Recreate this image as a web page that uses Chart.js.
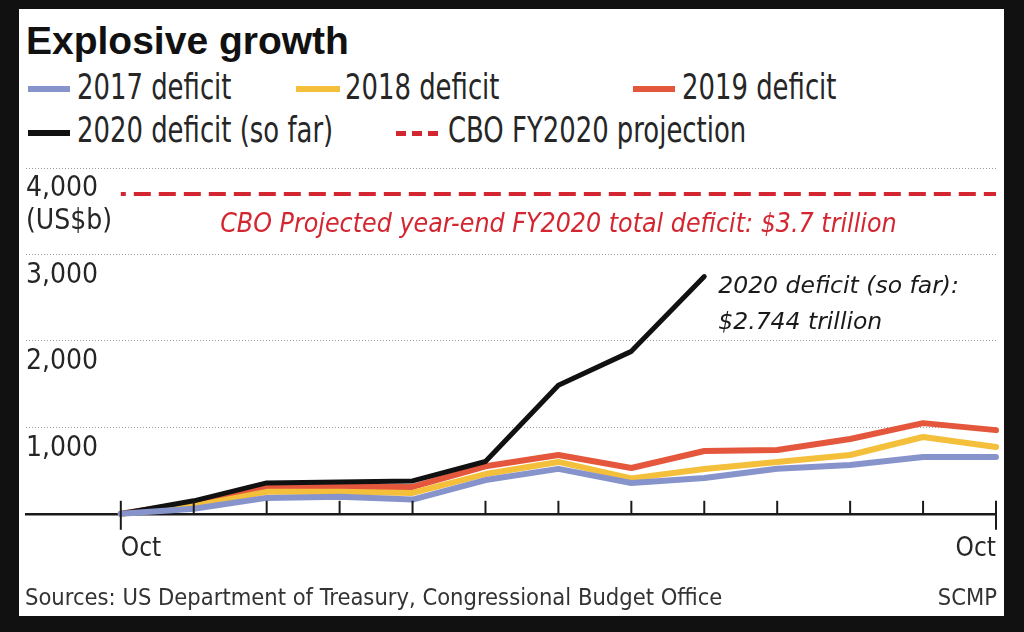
<!DOCTYPE html>
<html>
<head>
<meta charset="utf-8">
<title>Explosive growth</title>
<script src="https://cdn.jsdelivr.net/npm/chart.js@4.4.1/dist/chart.umd.min.js"></script>
<style>
  html, body { margin: 0; padding: 0; background: #111; }
  body { width: 1024px; height: 632px; position: relative; overflow: hidden; }
  #panel { position: absolute; left: 19px; top: 9px; width: 985px; height: 607px; background: #fff; }
  #chart { position: absolute; left: 0; top: 0; }
  .txt { position: absolute; white-space: nowrap; color: #262626; }
  .title { left: 26px; top: 20.5px; font: bold 39px/39px "Liberation Sans", Arial, sans-serif; color: #111; }
  .leg { font: 36px/36px "DejaVu Sans Condensed", sans-serif; transform: scaleX(0.8); transform-origin: left center; }
  .sw { position: absolute; height: 6px; }
  .dash { position: absolute; height: 5px;
    background: repeating-linear-gradient(to right, #d42630 0 10px, transparent 10px 16px); }
  .src { font: 23.5px/24px "DejaVu Sans Condensed", sans-serif; top: 584.7px; color: #333; }
</style>
</head>
<body>
<div id="panel"></div>

<div class="txt title">Explosive growth</div>

<!-- legend -->
<div class="sw" style="left:28px; top:86px; width:42px; background:#8794cc;"></div>
<div class="txt leg" style="left:77px; top:68.5px;">2017 deficit</div>
<div class="sw" style="left:296px; top:86px; width:44px; background:#f4bf3a;"></div>
<div class="txt leg" style="left:345px; top:68.5px;">2018 deficit</div>
<div class="sw" style="left:633px; top:86px; width:42px; background:#e4573d;"></div>
<div class="txt leg" style="left:682px; top:68.5px;">2019 deficit</div>
<div class="sw" style="left:28px; top:130px; width:42px; background:#111;"></div>
<div class="txt leg" style="left:77px; top:111.5px;">2020 deficit (so far)</div>
<div class="dash" style="left:396px; top:131px; width:44px;"></div>
<div class="txt leg" style="left:448px; top:111.5px;">CBO FY2020 projection</div>

<canvas id="chart" width="1024" height="632"></canvas>

<div class="txt src" style="left:25px;">Sources: US Department of Treasury, Congressional Budget Office</div>
<div class="txt src" style="right:27px;">SCMP</div>

<script>
// Cumulative fiscal-year deficit, US$ billions, Oct through Oct
const months = ["Oct", "Nov", "Dec", "Jan", "Feb", "Mar", "Apr", "May", "Jun", "Jul", "Aug", "Sep", "Oct"];
const deficit2017 = [0, 58, 184, 196, 165, 390, 520, 357, 415, 520, 565, 657, 657];
const deficit2018 = [0, 92, 254, 254, 242, 460, 600, 410, 519, 600, 680, 888, 772];
const deficit2019 = [0, 127, 311, 311, 311, 550, 680, 530, 726, 738, 865, 1049, 968];
const deficit2020 = [0, 150, 357, 369, 380, 605, 1487, 1879, 2744];
const cboProjection = 3700;
const yTicks = [0, 1000, 2000, 3000, 4000];

const cboLabel = "CBO Projected year-end FY2020 total deficit: $3.7 trillion";
const noteLines = ["2020 deficit (so far):", "$2.744 trillion"];

const BLUE = "#8794cc";
const YELLOW = "#f4bf3a";
const ORANGE = "#e4573d";
const BLACK = "#111111";
const RED = "#d42630";
const INK = "#262626";

const toPoints = (arr) => arr.map((v, i) => ({ x: i, y: v }));

// tick marks, unit label and annotations drawn on top of the lines
const decorPlugin = {
  id: "decor",
  afterDatasetsDraw(chart) {
    const { ctx, chartArea, scales } = chart;
    const x = scales.x;
    const y = scales.y;
    const last = months.length - 1;

    ctx.save();
    ctx.strokeStyle = "#1a1a1a";
    ctx.lineWidth = 2;
    months.forEach((m, i) => {
      const px = x.getPixelForValue(i);
      const isEnd = i === 0 || i === last;
      ctx.beginPath();
      ctx.moveTo(px, chartArea.bottom - 13);
      ctx.lineTo(px, chartArea.bottom + (isEnd ? 16 : 0));
      ctx.stroke();
    });

    ctx.fillStyle = INK;
    ctx.font = '28px "DejaVu Sans Condensed", sans-serif';
    ctx.textAlign = "left";
    ctx.textBaseline = "middle";
    ctx.fillText("(US$b)", chartArea.left, y.getPixelForValue(yTicks[yTicks.length - 1]) + 54);

    ctx.textBaseline = "alphabetic";
    ctx.fillStyle = RED;
    ctx.font = 'italic 26.5px "DejaVu Sans Condensed", sans-serif';
    ctx.textAlign = "center";
    const mid = (x.getPixelForValue(0) + x.getPixelForValue(last)) / 2;
    ctx.fillText(cboLabel, mid, y.getPixelForValue(cboProjection) + 38);

    const k = deficit2020.length - 1;
    const ax = x.getPixelForValue(k) + 14;
    const ay = y.getPixelForValue(deficit2020[k]);
    ctx.fillStyle = "#1a1a1a";
    ctx.font = 'italic 23.5px "DejaVu Sans", sans-serif';
    ctx.textAlign = "left";
    ctx.fillText(noteLines[0], ax, ay + 16);
    ctx.fillText(noteLines[1], ax, ay + 52);
    ctx.restore();
  },
};

const lineStyle = {
  pointRadius: 0,
  tension: 0,
  clip: false,
  borderCapStyle: "round",
  borderJoinStyle: "round",
};

new Chart(document.getElementById("chart"), {
  type: "line",
  data: {
    datasets: [
      { ...lineStyle, label: "2019 deficit", data: toPoints(deficit2019), borderColor: ORANGE, borderWidth: 6, order: 4 },
      { ...lineStyle, label: "2018 deficit", data: toPoints(deficit2018), borderColor: YELLOW, borderWidth: 6, order: 3 },
      { ...lineStyle, label: "2020 deficit (so far)", data: toPoints(deficit2020), borderColor: BLACK, borderWidth: 5, order: 2 },
      { ...lineStyle, label: "2017 deficit", data: toPoints(deficit2017), borderColor: BLUE, borderWidth: 6, order: 1 },
      {
        ...lineStyle,
        label: "CBO FY2020 projection",
        data: [{ x: 0, y: cboProjection }, { x: months.length - 1, y: cboProjection }],
        borderColor: RED,
        borderWidth: 4,
        borderCapStyle: "butt",
        borderDash: [17, 8],
        borderDashOffset: 12,
        order: 5,
      },
    ],
  },
  options: {
    responsive: false,
    animation: false,
    events: [],
    layout: { padding: { left: 26, right: 28, top: 168, bottom: 47 } },
    plugins: {
      legend: { display: false },
      tooltip: { enabled: false },
    },
    scales: {
      x: {
        type: "linear",
        min: -1.3,
        max: months.length - 1,
        afterBuildTicks: (scale) => {
          scale.ticks = months.map((m, i) => ({ value: i }));
        },
        grid: { display: false, drawTicks: false },
        border: { display: true, color: "#1a1a1a", width: 2.5 },
        ticks: {
          autoSkip: false,
          maxRotation: 0,
          align: "inner",
          padding: 20,
          color: INK,
          font: { family: '"DejaVu Sans Condensed", sans-serif', size: 26 },
          callback: (value, i) => (i === 0 || i === months.length - 1 ? months[value] : ""),
        },
      },
      y: {
        min: 0,
        max: 4000,
        afterBuildTicks: (scale) => {
          scale.ticks = yTicks.map((v) => ({ value: v }));
        },
        grid: { color: "#9a9a9a", lineWidth: 1, drawTicks: false, borderDash: [1, 2] },
        border: { display: false, dash: [1, 2] },
        ticks: {
          mirror: true,
          padding: 0,
          labelOffset: 21,
          color: INK,
          font: { family: '"DejaVu Sans Condensed", sans-serif', size: 28 },
          callback: (value) => (value === 0 ? "" : value.toLocaleString("en-US")),
        },
      },
    },
  },
  plugins: [decorPlugin],
});
</script>
</body>
</html>
